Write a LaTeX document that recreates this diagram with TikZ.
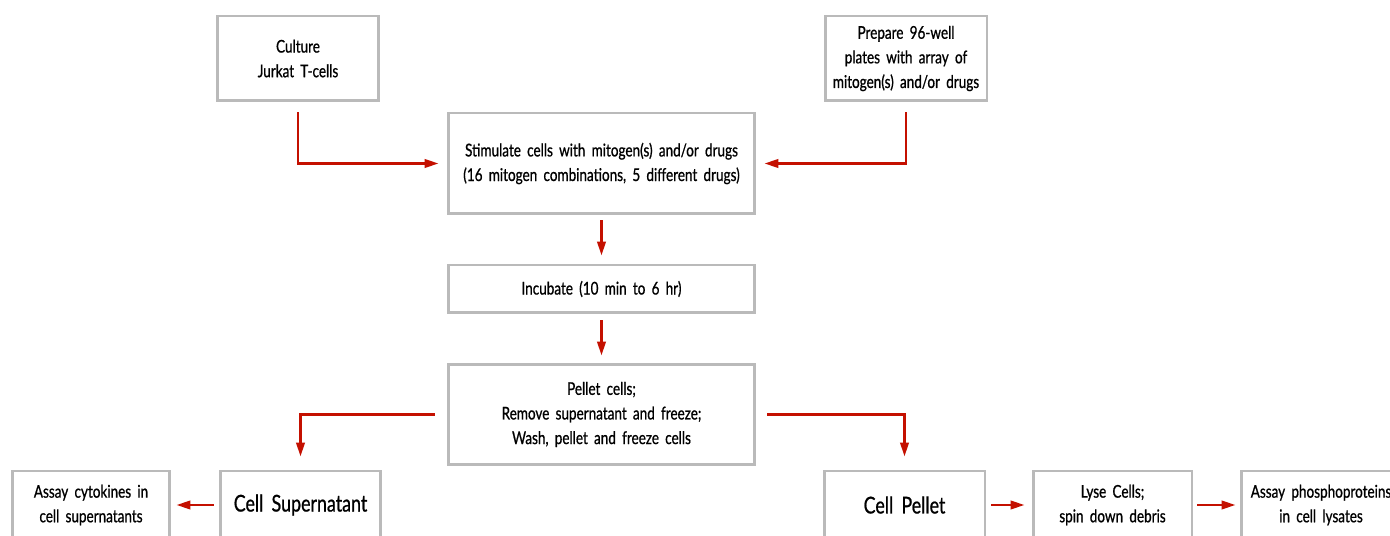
\documentclass[tikz,border=0pt]{standalone}
\usepackage{fontspec}
\setmainfont[FakeStretch=0.77,WordSpace=1.8,FakeBold=0.8]{Lato}
\usetikzlibrary{arrows.meta,positioning}
\definecolor{boxgray}{RGB}{186,186,186}
\definecolor{flowred}{RGB}{196,16,0}

\begin{document}
\begin{tikzpicture}[x=0.02cm,y=-0.02cm]
  \tikzstyle{stepbox}=[draw=boxgray,line width=1.7pt,fill=white,align=center,
    inner sep=2pt,font=\fontsize{10}{14}\selectfont,text=black]
  \tikzstyle{bigbox}=[stepbox,font=\fontsize{13.2}{16}\selectfont]
  \tikzstyle{flow}=[-{Triangle[length=2.8mm,width=1.7mm]},flowred,line width=1.4pt]

  \clip (0,0) rectangle (1390,536);
  \fill[white] (0,0) rectangle (1390,536);

  % -- top inputs --
  \node[stepbox,minimum width=3.24cm,minimum height=1.7cm] (cult) at (298,58.5)
    {Culture\\Jurkat T-cells};
  \node[stepbox,minimum width=3.24cm,minimum height=1.7cm] (prep) at (906,58.5)
    {Prepare 96-well\\plates with array of\\mitogen(s) and/or drugs};

  % -- main column --
  \node[stepbox,minimum width=6.14cm,minimum height=2.02cm] (stim) at (601.5,163.5)
    {Stimulate cells with mitogen(s) and/or drugs\\(16 mitogen combinations, 5 different drugs)};
  \node[stepbox,minimum width=6.14cm,minimum height=0.96cm] (incu) at (601.5,289)
    {Incubate (10 min to 6 hr)};
  \node[stepbox,minimum width=6.14cm,minimum height=2.02cm] (pell) at (601.5,414.5)
    {Pellet cells;\\Remove supernatant and freeze;\\Wash, pellet and freeze cells};

  % -- bottom row --
  \node[stepbox,minimum width=3.16cm,minimum height=1.36cm] (cyto) at (91,505)
    {Assay cytokines in\\cell supernatants};
  \node[bigbox,minimum width=3.22cm,minimum height=1.36cm] (csup) at (300.5,505)
    {Cell Supernatant};
  \node[bigbox,minimum width=3.22cm,minimum height=1.36cm] (cpel) at (904.5,505)
    {Cell Pellet};
  \node[stepbox,minimum width=3.18cm,minimum height=1.36cm] (lyse) at (1112.5,505)
    {Lyse Cells;\\spin down debris};
  \node[stepbox,minimum width=3.2cm,minimum height=1.36cm] (phos) at (1321,505)
    {Assay phosphoproteins\\in cell lysates};

  % -- connectors --
  \draw[flow,shorten <=0.2cm,shorten >=0.16cm] (cult.south) |- (stim.west);
  \draw[flow,shorten <=0.2cm,shorten >=0.16cm] (prep.south) |- (stim.east);
  \draw[flow,shorten <=0.1cm,shorten >=0.16cm] (stim.south) -- (incu.north);
  \draw[flow,shorten <=0.12cm,shorten >=0.14cm] (incu.south) -- (pell.north);
  \draw[flow,shorten <=0.24cm,shorten >=0.26cm] (pell.west) -| (csup.north);
  \draw[flow,shorten <=0.22cm,shorten >=0.26cm] (pell.east) -| (cpel.north);
  \draw[flow,shorten <=0.1cm,shorten >=0.1cm] (csup.west) -- (cyto.east);
  \draw[flow,shorten <=0.1cm,shorten >=0.14cm] (cpel.east) -- (lyse.west);
  \draw[flow,shorten <=0.08cm,shorten >=0.08cm] (lyse.east) -- (phos.west);
\end{tikzpicture}
\end{document}
